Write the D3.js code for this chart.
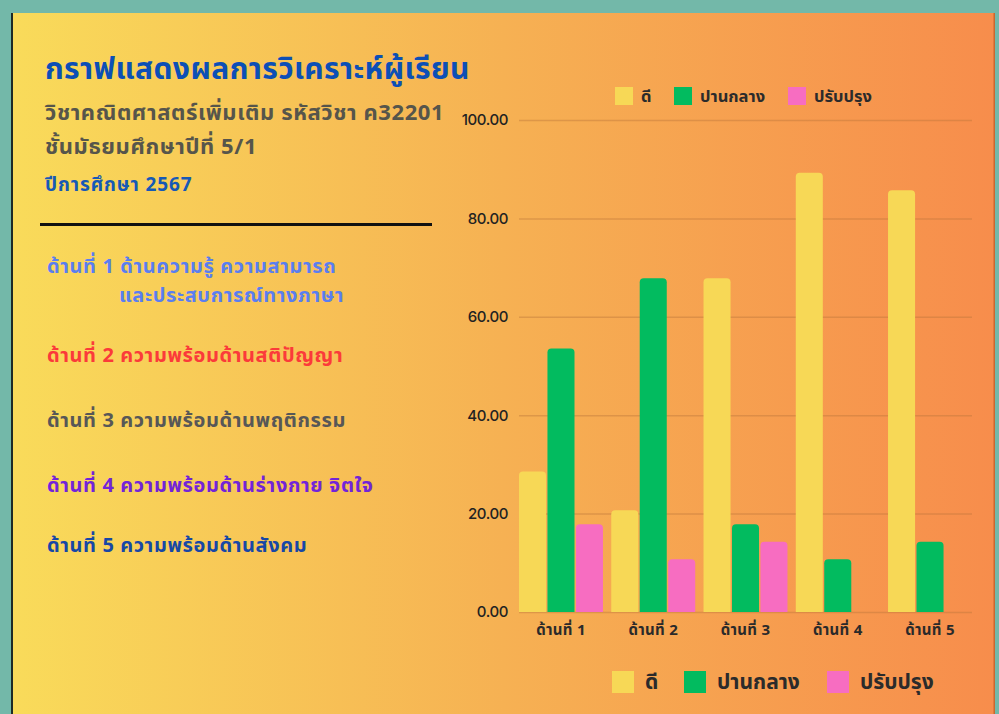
<!DOCTYPE html>
<html>
<head>
<meta charset="utf-8">
<script src="https://cdn.jsdelivr.net/npm/d3@7"></script>
<style>
  body { margin: 0; background: #73b8a9; }
  svg { display: block; }
  text { font-family: "Noto Sans Thai", "Noto Sans Thai UI", "Sarabun", "Tahoma", "Noto Sans", sans-serif; font-weight: bold; }
</style>
</head>
<body>
<script>
var w = 999;
var h = 714;

// data
var categories = ["ด้านที่ 1", "ด้านที่ 2", "ด้านที่ 3", "ด้านที่ 4", "ด้านที่ 5"];
var seriesNames = ["ดี", "ปานกลาง", "ปรับปรุง"];
var good = [28.57, 20.7, 67.86, 89.29, 85.71];
var medium = [53.57, 67.86, 17.86, 10.71, 14.29];
var improve = [17.86, 10.71, 14.29, 0, 0];
var yTicks = [0, 20, 40, 60, 80, 100];
var seriesColors = ["#f7d856", "#02bb5f", "#f76dc1"];

var titleLines = ["กราฟแสดงผลการวิเคราะห์ผู้เรียน"];
var subLines = ["วิชาคณิตศาสตร์เพิ่มเติม รหัสวิชา ค32201", "ชั้นมัธยมศึกษาปีที่ 5/1"];
var yearLine = "ปีการศึกษา 2567";
var aspectLines = [
    ["ด้านที่ 1 ด้านความรู้ ความสามารถ", "และประสบการณ์ทางภาษา"],
    ["ด้านที่ 2 ความพร้อมด้านสติปัญญา"],
    ["ด้านที่ 3 ความพร้อมด้านพฤติกรรม"],
    ["ด้านที่ 4 ความพร้อมด้านร่างกาย จิตใจ"],
    ["ด้านที่ 5 ความพร้อมด้านสังคม"]
];
var aspectColors = ["#5a7ef0", "#fb3a3a", "#575757", "#7224d8", "#1747a6"];

var svg = d3.select("body")
    .append("svg")
    .attr("width", w)
    .attr("height", h);

// poster background
var defs = svg.append("defs");
var grad = defs.append("linearGradient")
    .attr("id", "bg")
    .attr("x1", "0%").attr("x2", "100%")
    .attr("y1", "0%").attr("y2", "0%");
grad.append("stop").attr("offset", "0%").attr("stop-color", "#f9db5a");
grad.append("stop").attr("offset", "50%").attr("stop-color", "#f6b153");
grad.append("stop").attr("offset", "100%").attr("stop-color", "#f78d4c");

svg.append("rect")
    .attr("x", 0).attr("y", 0)
    .attr("width", w).attr("height", h)
    .attr("fill", "#73b8a9");
svg.append("rect")
    .attr("x", 11).attr("y", 13)
    .attr("width", 984).attr("height", h - 13)
    .attr("fill", "#1d2a26");
svg.append("rect")
    .attr("x", 13).attr("y", 13)
    .attr("width", 981).attr("height", h - 13)
    .attr("fill", "url(#bg)");
svg.append("rect")
    .attr("x", 993.5).attr("y", 13)
    .attr("width", 1.5).attr("height", h - 13)
    .attr("fill", "#c9672f");

// left texts
svg.append("text")
    .attr("x", 45).attr("y", 79)
    .attr("font-size", 30)
    .attr("letter-spacing", 0.4)
    .attr("fill", "#0c4fb6")
    .text(titleLines[0]);

svg.selectAll(".sub")
    .data(subLines)
    .enter()
    .append("text")
    .attr("class", "sub")
    .attr("x", 45)
    .attr("y", function (d, i) { return 120 + i * 34; })
    .attr("font-size", 22)
    .attr("letter-spacing", 0.6)
    .attr("fill", "#56554b")
    .text(function (d) { return d; });

svg.append("text")
    .attr("x", 45).attr("y", 191)
    .attr("font-size", 19)
    .attr("letter-spacing", 0.9)
    .attr("fill", "#1659b6")
    .text(yearLine);

svg.append("line")
    .attr("x1", 40).attr("x2", 432)
    .attr("y1", 224.5).attr("y2", 224.5)
    .attr("stroke", "#111")
    .attr("stroke-width", 3);

var aspectY = [273, 362, 427, 492, 552];
aspectLines.forEach(function (lines, i) {
    lines.forEach(function (t, j) {
        svg.append("text")
            .attr("x", j === 0 ? 47 : 119)
            .attr("y", aspectY[i] + j * 29)
            .attr("font-size", 20)
            .attr("letter-spacing", 0.6)
            .attr("fill", aspectColors[i])
            .text(t);
    });
});

// chart
var mLeft = 519, mRight = 972, mTop = 120, mBottom = 612;

var y = d3.scaleLinear()
    .domain([0, 100])
    .range([mBottom, mTop]);

var x0 = d3.scaleBand()
    .domain(categories)
    .range([mLeft, mRight])
    .paddingInner(0.09)
    .paddingOuter(0);

var x1 = d3.scaleBand()
    .domain(seriesNames)
    .range([0, x0.bandwidth()])
    .paddingInner(0.05);

var yAxis = svg.append("g")
    .attr("transform", "translate(" + mLeft + ",0)")
    .call(d3.axisLeft(y)
        .tickValues(yTicks)
        .tickFormat(d3.format(".2f"))
        .tickSize(-(mRight - mLeft))
        .tickPadding(11));
yAxis.select(".domain").remove();
yAxis.selectAll(".tick line")
    .attr("stroke", "#b8743a")
    .attr("stroke-opacity", 0.4)
    .attr("stroke-width", 1.5);
yAxis.selectAll(".tick text")
    .attr("font-size", 15)
    .style("font-weight", "500")
    .style("font-family", "Inter, Roboto, sans-serif")
    .attr("letter-spacing", -0.4)
    .attr("fill", "#222");

var rows = [];
categories.forEach(function (c, i) {
    rows.push({ cat: c, key: seriesNames[0], value: good[i], color: seriesColors[0] });
    rows.push({ cat: c, key: seriesNames[1], value: medium[i], color: seriesColors[1] });
    rows.push({ cat: c, key: seriesNames[2], value: improve[i], color: seriesColors[2] });
});

function barPath(x, yTop, bw, yBase, r) {
    var hgt = yBase - yTop;
    if (hgt <= 0) return "";
    r = Math.min(r, hgt, bw / 2);
    return "M" + x + "," + yBase +
        "V" + (yTop + r) +
        "Q" + x + "," + yTop + " " + (x + r) + "," + yTop +
        "H" + (x + bw - r) +
        "Q" + (x + bw) + "," + yTop + " " + (x + bw) + "," + (yTop + r) +
        "V" + yBase + "Z";
}

svg.append("g")
    .selectAll("path")
    .data(rows)
    .enter()
    .append("path")
    .attr("fill", function (d) { return d.color; })
    .attr("d", function (d) {
        return barPath(x0(d.cat) + x1(d.key), y(d.value), x1.bandwidth(), y(0), 4);
    });

var xAxis = svg.append("g")
    .attr("transform", "translate(0," + mBottom + ")")
    .call(d3.axisBottom(x0).tickSize(0).tickPadding(12));
xAxis.select(".domain").remove();
xAxis.selectAll(".tick text")
    .attr("font-size", 15)
    .attr("letter-spacing", 0.3)
    .attr("fill", "#2a2a2a");

// legends
function legend(xs, yy, size, fs, gap) {
    var g = svg.append("g");
    seriesNames.forEach(function (n, i) {
        g.append("rect")
            .attr("x", xs[i]).attr("y", yy)
            .attr("width", size).attr("height", size)
            .attr("fill", seriesColors[i]);
        g.append("text")
            .attr("x", xs[i] + size + gap)
            .attr("y", yy + size / 2)
            .attr("dy", "0.35em")
            .attr("font-size", fs)
            .attr("fill", "#2b2b2b")
            .text(n);
    });
}
legend([615, 674, 788], 87, 18, 16.5, 8);
legend([612, 684, 827], 671, 22, 21, 11);
</script>
</body>
</html>
